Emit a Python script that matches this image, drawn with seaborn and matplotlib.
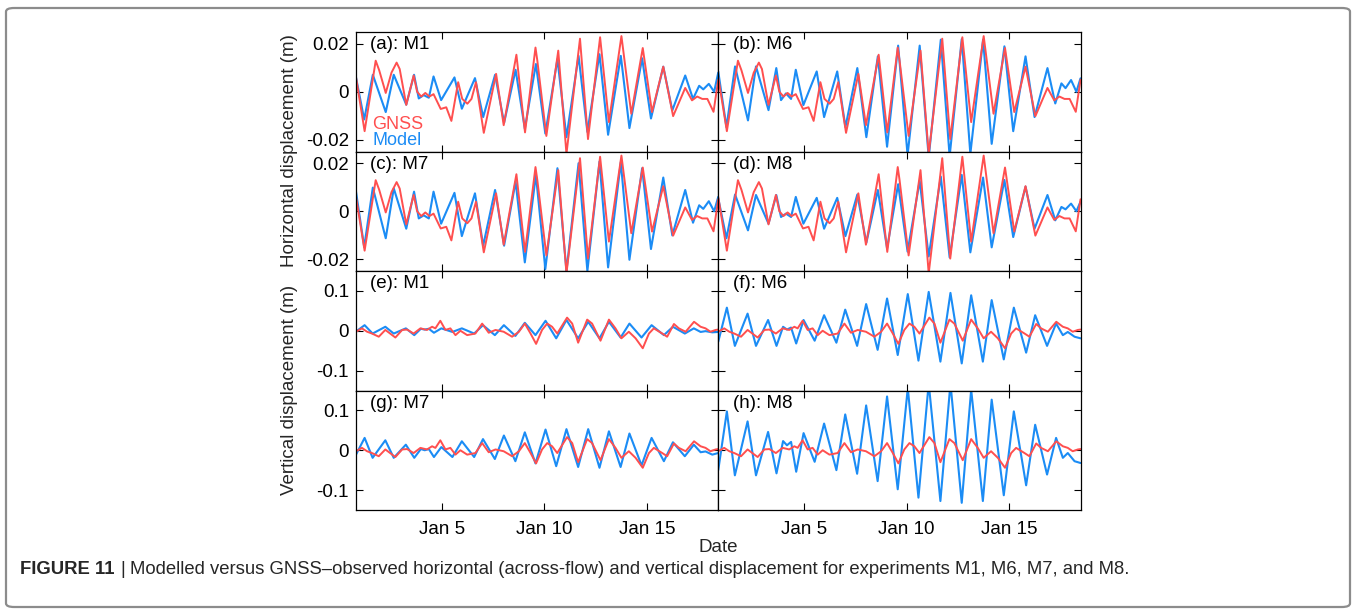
import numpy as np
import pandas as pd
import matplotlib
matplotlib.use("Agg")
import matplotlib.pyplot as plt
import matplotlib.dates as mdates
from matplotlib.ticker import FuncFormatter, FixedLocator
from matplotlib.patches import FancyBboxPatch
import seaborn as sns

# Data: times in days of January, displacements in mm
# horizontal model runs share the same extremum times
t_model_h = [0.82, 1.22, 1.64, 2.27, 2.66, 3.27, 3.65, 3.88, 4.12, 4.37, 4.60, 4.97, 5.62, 5.98,
             6.62, 7.02, 7.60, 8.04, 8.60, 9.05, 9.59, 10.05, 10.64, 11.08, 11.67, 12.10, 12.69,
             13.11, 13.73, 14.15, 14.77, 15.20, 15.80, 16.24, 16.87, 17.25, 17.55, 17.75, 18.02,
             18.28, 18.48]
m1_h_mm = [6.0, -11.6, 7.1, -8.5, 7.1, -5.4, 7.1, -2.8, -1.4, -2.5, 6.4, -3.5, 6.0, -7.1, 5.7,
           -10.6, 7.1, -13.0, 9.2, -15.5, 11.6, -17.5, 13.6, -19.0, 15.0, -16.8, 15.7, -18.0,
           15.0, -15.2, 14.0, -11.2, 10.5, -7.8, 6.8, -3.0, 2.5, 1.0, 3.3, 0.0, 8.0]
m6_h_mm = [8.5, -14.8, 10.6, -12.0, 10.6, -7.7, 9.9, -3.5, -0.7, -3.0, 9.2, -5.6, 8.5, -10.6, 8.5,
           -14.8, 9.9, -19.0, 14.8, -23.0, 19.3, -26.5, 19.3, -27.5, 21.8, -27.0, 22.0, -26.0,
           21.8, -21.8, 19.0, -16.5, 14.8, -10.6, 9.9, -4.9, 3.5, 1.5, 4.9, 0.0, 5.6]
m7_h_mm = [8.2, -15.0, 9.9, -11.3, 9.6, -7.3, 8.2, -3.0, -1.7, -3.0, 8.2, -5.2, 7.7, -10.4, 7.5,
           -14.4, 8.9, -14.4, 12.4, -21.4, 15.2, -24.2, 18.0, -25.0, 20.1, -25.0, 20.8, -23.5,
           20.6, -20.3, 18.0, -15.8, 14.1, -10.1, 8.9, -4.8, 2.5, 1.0, 4.2, 0.0, 6.0]
m8_h_mm = [5.4, -11.3, 7.0, -8.0, 6.8, -5.2, 6.8, -2.4, -1.0, -2.4, 6.0, -5.2, 5.6, -7.3, 5.6,
           -10.4, 7.0, -13.2, 8.9, -15.5, 11.3, -16.9, 12.7, -18.9, 14.5, -19.3, 15.2, -17.2,
           14.1, -15.1, 13.1, -10.8, 10.3, -7.3, 6.8, -3.8, 1.8, 0.8, 3.2, 0.0, 4.0]

t_gnss_h = [0.82, 1.24, 1.78, 1.95, 2.27, 2.55, 2.80, 2.95, 3.27, 3.63, 3.80, 4.00, 4.20, 4.40,
            4.60, 4.95, 5.22, 5.47, 5.80, 6.00, 6.25, 6.45, 6.67, 7.05, 7.65, 8.02, 8.64, 9.06,
            9.57, 9.66, 10.10, 10.68, 11.08, 11.74, 12.13, 12.72, 13.15, 13.76, 14.24, 14.80,
            15.25, 15.80, 16.28, 16.87, 17.20, 17.45, 17.70, 17.95, 18.25, 18.48]
gnss_h_mm = [6.0, -16.5, 13.0, 9.0, -0.5, 8.0, 12.2, 9.5, -5.5, 6.8, 0.0, -2.0, -0.5, -2.0,
             -1.0, -7.2, -6.5, -12.2, 4.0, -3.0, -5.0, -3.0, 4.0, -17.2, 7.5, -14.0, 15.5, -17.0,
             18.5, 13.0, -18.5, 17.2, -26.0, 22.2, -19.8, 22.8, -12.7, 23.3, -9.2, 18.3,
             -8.5, 10.5, -10.2, 1.6, -3.6, -2.0, -3.0, -3.0, -8.4, 5.0]

# vertical model runs
t_model_v = [0.82, 1.24, 1.63, 2.25, 2.66, 3.25, 3.66, 3.98, 4.17, 4.37, 4.62, 4.98, 5.52, 5.98,
             6.58, 7.01, 7.59, 8.03, 8.59, 9.05, 9.57, 10.06, 10.58, 11.08, 11.65, 12.14, 12.69,
             13.15, 13.72, 14.15, 14.74, 15.23, 15.83, 16.27, 16.85, 17.29, 17.62, 17.86, 18.19,
             18.48]
m1_v_mm = [-2, 14, -7, 10, -7, 6, -11, 5, 3, 5, -5, 6, -3, 6, -7, 14, -11, 14, -13, 20,
           -11, 25, -19, 27, -19, 22.5, -19, 22.5, -17, 18, -17, 14, -11, 10, -7, 6, -3, -1, -4, -3]
m6_v_mm = [-27.5, 58, -38, 43, -38, 27, -38, 10, 3, 8, -32, 27, -25, 39, -30, 53, -38, 67, -48, 81,
           -61, 92, -75, 97.5, -77.5, 95, -82, 89, -77.5, 77, -72, 58, -55, 39, -38, 18, -11, -3,
           -15, -19]
m7_v_mm = [-11, 31, -19, 25, -19, 14, -19, 3, 0, 3, -17, 8, -17, 22.5, -17, 28, -22, 37, -27.5, 45,
           -33, 52, -40, 53, -42, 53, -44, 47.5, -42, 42, -38, 31, -27.5, 20, -15, 14, -5, -3,
           -11, -7]
m8_v_mm = [-50, 97.5, -63, 72.5, -63, 46, -58, 23, 12.5, 21, -54, 43, -29, 67, -50, 90, -59, 112.5,
           -77.5, 135, -98, 156, -119, 168, -127.5, 168, -132, 152, -127.5, 127, -113, 97.5, -88,
           64, -61, 31, -19, -7, -27.5, -32]

t_gnss_v = [0.82, 1.11, 1.36, 1.60, 1.93, 2.25, 2.74, 3.07, 3.31, 3.63, 3.96, 4.28, 4.53, 4.69,
            4.93, 5.18, 5.42, 5.67, 5.91, 6.24, 6.64, 6.97, 7.29, 7.62, 8.02, 8.43, 8.76, 9.05,
            9.33, 9.60, 9.89, 10.14, 10.38, 10.63, 11.11, 11.36, 11.65, 12.09, 12.33, 12.74,
            13.15, 13.47, 13.76, 14.12, 14.45, 14.80, 15.10, 15.34, 15.75, 15.99, 16.32, 16.56,
            16.89, 17.30, 17.62, 17.86, 18.10, 18.35, 18.48]
gnss_v_mm = [-2.5, 6, -2.5, -7, -15, 2, -17, 2, 3, -7, 6, 2, 10, 6, 25, 2, 6, -11, 0, -11,
             -7, 18, -5, 2, -2.5, -15, -2.5, 18, -7, -33, 2, 18, 10, -7, 33, 18, -30, 28, 18, -25,
             28, 6, -19, -2.5, -19, -44, -7, 6, -7, -15, 17, 6, -2.5, 22.5, 10, 6, -2.5, 2, 3]

experiments = ["M1", "M6", "M7", "M8"]
letters = ["a", "b", "c", "d", "e", "f", "g", "h"]
date_ticks = [5, 10, 15]

sns.set_theme(style="ticks")
plt.rcParams["font.family"] = ["Liberation Sans", "DejaVu Sans"]

RED = "#ff4f4f"
BLUE = "#1b8cf5"
FS = 13.5
start = pd.Timestamp("2018-12-31")


def to_dates(days):
    return start + pd.to_timedelta(np.asarray(days, dtype=float), unit="D")


W, H = 1356, 614
fig, axes = plt.subplots(4, 2, figsize=(W / 100, H / 100), dpi=100)
fig.subplots_adjust(left=356 / W, right=1080.5 / W, top=1 - 32 / H, bottom=1 - 510 / H,
                    hspace=0, wspace=0)

model_h = {"M1": m1_h_mm, "M6": m6_h_mm, "M7": m7_h_mm, "M8": m8_h_mm}
model_v = {"M1": m1_v_mm, "M6": m6_v_mm, "M7": m7_v_mm, "M8": m8_v_mm}

for i, exp in enumerate(experiments):
    r, c = divmod(i, 2)
    # horizontal rows 0-1, vertical rows 2-3
    for kind, row in (("h", r), ("v", r + 2)):
        ax = axes[row, c]
        if kind == "h":
            tm, vm, tg, vg = t_model_h, model_h[exp], t_gnss_h, gnss_h_mm
            lim, ticks = 0.025, [-0.02, 0, 0.02]
        else:
            tm, vm, tg, vg = t_model_v, model_v[exp], t_gnss_v, gnss_v_mm
            lim, ticks = 0.15, [-0.1, 0, 0.1]
        sns.lineplot(x=to_dates(tm), y=np.array(vm) / 1000, ax=ax, color=BLUE, lw=1.5,
                     estimator=None, sort=False, solid_joinstyle="round")
        sns.lineplot(x=to_dates(tg), y=np.array(vg) / 1000, ax=ax, color=RED, lw=1.4,
                     estimator=None, sort=False, solid_joinstyle="round")
        ax.set_ylim(-lim, lim)
        ax.yaxis.set_major_locator(FixedLocator(ticks))
        ax.yaxis.set_major_formatter(FuncFormatter(lambda v, p: f"{v:g}"))
        letter = letters[row * 2 + c]
        ax.text(0.04, 0.895, f"({letter}): {exp}", transform=ax.transAxes,
                fontsize=FS, va="center", ha="left", color="black")

for ax in axes.flat:
    ax.set_xlim(to_dates([0.82])[0], to_dates([18.48])[0])
    ax.xaxis.set_major_locator(FixedLocator(mdates.date2num(to_dates(date_ticks))))
    ax.xaxis.set_major_formatter(
        FuncFormatter(lambda x, p: f"{mdates.num2date(x):%b} {mdates.num2date(x).day}"))
    ax.set_xlabel("")
    ax.set_ylabel("")
    ax.tick_params(direction="in", top=True, right=True, length=5, width=0.8,
                   labelsize=FS, colors="black")
    ax.tick_params(axis="y", pad=5)
    ax.tick_params(axis="x", pad=8)
    for s in ax.spines.values():
        s.set_linewidth(0.9)
        s.set_color("black")

for ax in axes[:3, :].flat:
    ax.tick_params(labelbottom=False)
for ax in axes[:, 1]:
    ax.tick_params(labelleft=False)

# text legend in panel (a)
axes[0, 0].text(0.045, 0.228, "GNSS", color=RED, fontsize=13, transform=axes[0, 0].transAxes,
                va="center", ha="left")
axes[0, 0].text(0.045, 0.088, "Model", color=BLUE, fontsize=13, transform=axes[0, 0].transAxes,
                va="center", ha="left")

fig.text(289 / W, 1 - 151 / H, "Horizontal displacement (m)", rotation=90, ha="center",
         va="center", fontsize=FS)
fig.text(289 / W, 1 - 390 / H, "Vertical displacement (m)", rotation=90, ha="center",
         va="center", fontsize=FS)
fig.text(718 / W, 1 - 547 / H, "Date", ha="center", va="center", fontsize=FS)

# caption and frame
cap_font = ["Liberation Sans", "DejaVu Sans"]
cap_fs = 13.3
cap_y = 1 - 570 / H
renderer = fig.canvas.get_renderer()
t1 = fig.text(20 / W, cap_y, "FIGURE 11", fontweight="bold", fontsize=cap_fs, va="center",
              family=cap_font)
x1 = t1.get_window_extent(renderer).x1
t2 = fig.text((x1 + 6) / W, cap_y, "|", fontsize=cap_fs, va="center", family=cap_font)
x2 = t2.get_window_extent(renderer).x1
fig.text((x2 + 5) / W, cap_y,
         "Modelled versus GNSS\u2013observed horizontal (across-flow) and vertical displacement "
         "for experiments M1, M6, M7, and M8.",
         fontsize=cap_fs, va="center", family=cap_font)

frame = FancyBboxPatch((6 / W, 1 - 607 / H), 1344 / W, 599 / H,
                       boxstyle="round,pad=0,rounding_size=0.006", transform=fig.transFigure,
                       fill=False, edgecolor="#8c8c8c", lw=1.6)
fig.patches.append(frame)

fig.savefig("out.png", dpi=100)
